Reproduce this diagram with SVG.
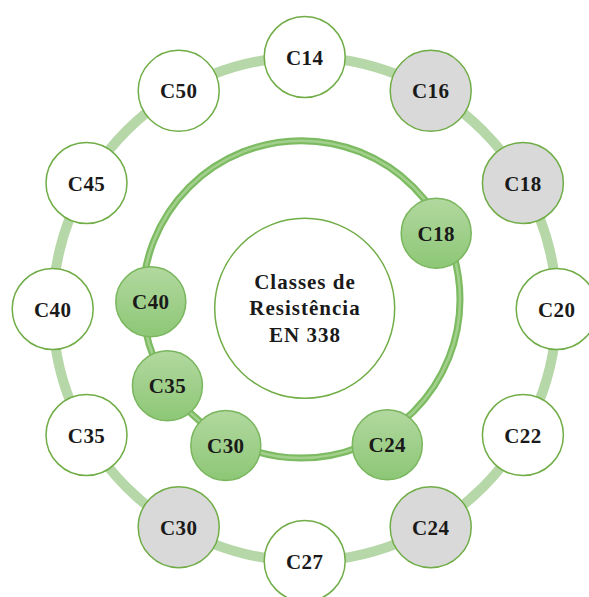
<svg xmlns="http://www.w3.org/2000/svg" width="589" height="597" viewBox="0 0 589 597">
<defs>
<linearGradient id="g" x1="0" y1="0" x2="0" y2="1">
<stop offset="0" stop-color="#b2d89f"/>
<stop offset="1" stop-color="#8dc776"/>
</linearGradient>
<style>
.o{fill:#ffffff;stroke:#70ad47;stroke-width:1.5}
.gr{fill:#d9d9d9;stroke:#70ad47;stroke-width:1.5}
.i{fill:url(#g);stroke:#79b65d;stroke-width:1.5}
.t{font-family:"Liberation Serif","Times New Roman",serif;font-weight:bold;font-size:21px;fill:#1a1a1a;text-anchor:middle;letter-spacing:0.4px}
.c{font-family:"Liberation Serif","Times New Roman",serif;font-weight:bold;font-size:21px;fill:#1a1a1a;text-anchor:middle;letter-spacing:1px}
</style>
</defs>
<rect width="589" height="597" fill="#ffffff"/>
<g id="connectors">
<circle cx="304.7" cy="309" r="252" fill="none" stroke="#b6d7a8" stroke-width="10"/>
<circle cx="301.3" cy="299.4" r="158.7" fill="none" stroke="#7dbb62" stroke-width="7"/>
<circle cx="301.3" cy="299.4" r="158.7" fill="none" stroke="#a3d18d" stroke-width="2.5"/>
</g>
<g id="center"><circle cx="304.7" cy="308.3" r="90" fill="#ffffff" stroke="#70ad47" stroke-width="1.5"/>
<text class="c" x="305" y="288.5">Classes de</text>
<text class="c" x="305" y="315">Resistência</text>
<text class="c" x="305" y="341.5">EN 338</text></g>
<g id="o14"><circle class="o" cx="304.7" cy="57" r="40.5"/><text class="t" x="304.7" y="64.5">C14</text></g>
<g id="o16"><circle class="gr" cx="430.7" cy="90.8" r="40.5"/><text class="t" x="430.7" y="98.3">C16</text></g>
<g id="o18"><circle class="gr" cx="522.9" cy="183" r="40.5"/><text class="t" x="522.9" y="190.5">C18</text></g>
<g id="o20"><circle class="o" cx="556.7" cy="309" r="40.5"/><text class="t" x="556.7" y="316.5">C20</text></g>
<g id="o22"><circle class="o" cx="522.9" cy="435" r="40.5"/><text class="t" x="522.9" y="442.5">C22</text></g>
<g id="o24"><circle class="gr" cx="430.7" cy="527.2" r="40.5"/><text class="t" x="430.7" y="534.7">C24</text></g>
<g id="o27"><circle class="o" cx="304.7" cy="561" r="40.5"/><text class="t" x="304.7" y="568.5">C27</text></g>
<g id="o30"><circle class="gr" cx="178.7" cy="527.2" r="40.5"/><text class="t" x="178.7" y="534.7">C30</text></g>
<g id="o35"><circle class="o" cx="86.5" cy="435" r="40.5"/><text class="t" x="86.5" y="442.5">C35</text></g>
<g id="o40"><circle class="o" cx="52.7" cy="309" r="40.5"/><text class="t" x="52.7" y="316.5">C40</text></g>
<g id="o45"><circle class="o" cx="86.5" cy="183" r="40.5"/><text class="t" x="86.5" y="190.5">C45</text></g>
<g id="o50"><circle class="o" cx="178.7" cy="90.8" r="40.5"/><text class="t" x="178.7" y="98.3">C50</text></g>
<g id="i18"><circle class="i" cx="436.2" cy="233.2" r="35"/><text class="t" x="436.2" y="240.7">C18</text></g>
<g id="i24"><circle class="i" cx="387.3" cy="444.7" r="35"/><text class="t" x="387.3" y="452.2">C24</text></g>
<g id="i30"><circle class="i" cx="225.8" cy="445.5" r="35"/><text class="t" x="225.8" y="453">C30</text></g>
<g id="i35"><circle class="i" cx="167.4" cy="385.8" r="35"/><text class="t" x="167.4" y="393.3">C35</text></g>
<g id="i40"><circle class="i" cx="150.8" cy="301.8" r="35"/><text class="t" x="150.8" y="309.3">C40</text></g>
</svg>
